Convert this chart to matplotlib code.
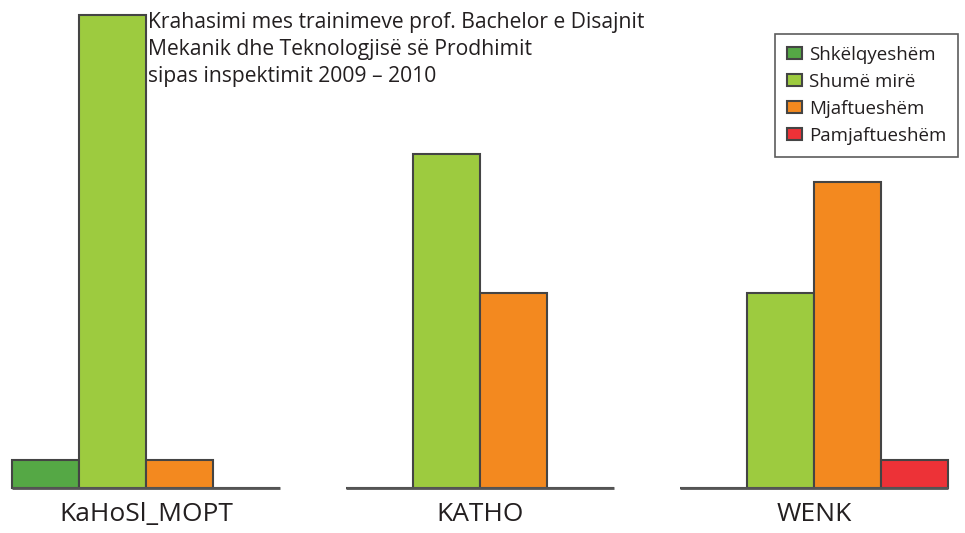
import numpy as np
import matplotlib.pyplot as plt

plt.rcParams['font.family'] = ['Open Sans', 'DejaVu Sans']

# data
schools = ["KaHoSl_MOPT", "KATHO", "WENK"]
grades = ["Shkëlqyeshëm", "Shumë mirë", "Mjaftueshëm", "Pamjaftueshëm"]
excellent = [1, 0, 0]
very_good = [17, 12, 7]
sufficient = [1, 7, 11]
insufficient = [0, 0, 1]
colors = ["#55a845", "#9dcb3f", "#f3891f", "#ed3237"]

title = ("Krahasimi mes trainimeve prof. Bachelor e Disajnit\n"
         "Mekanik dhe Teknologjisë së Prodhimit\n"
         "sipas inspektimit 2009 \u2013 2010")

fig = plt.figure(figsize=(9.65, 5.33), dpi=100)
ax = fig.add_axes([0, 0, 1, 1])

x = np.arange(len(schools))
w = 0.2
series = [excellent, very_good, sufficient, insufficient]
for i, (vals, name) in enumerate(zip(series, grades)):
    ax.bar(x + (i - 1.5) * w, vals, width=w, color=colors[i],
           edgecolor="#444444", linewidth=1.5, label=name, zorder=2)

# baseline under each group
ax.hlines(np.zeros(len(x)), x - 2 * w, x + 2 * w, color="#555555",
          linewidth=2, zorder=3)

for xi, s in zip(x, schools):
    ax.text(xi, -0.95, s, ha="center", va="center", fontsize=19, color="#231f20")

fig.text(0.153, 0.978, title, ha="left", va="top", fontsize=15.2,
         color="#231f20", linespacing=1.37)

leg = ax.legend(loc="upper right", bbox_to_anchor=(0.993, 0.937),
                fontsize=13.5, frameon=True, fancybox=False, borderpad=0.65,
                handlelength=0.8, handleheight=0.65, handletextpad=0.35,
                labelspacing=0.48, borderaxespad=0)
leg.get_frame().set_edgecolor("#333333")
leg.get_frame().set_linewidth(1.2)
for t in leg.get_texts():
    t.set_color("#231f20")

ax.set_xlim(-0.437, 2.452)
ax.set_ylim(-1.62, 17.55)
ax.axis("off")

fig.savefig("out.png", dpi=100)
